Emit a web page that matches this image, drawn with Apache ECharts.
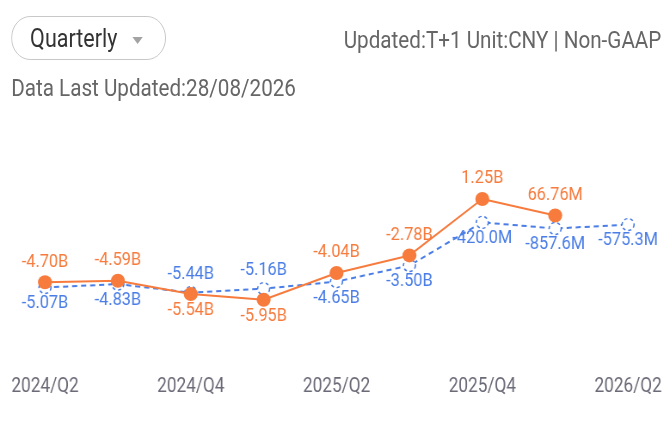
<!DOCTYPE html>
<html><head><meta charset="utf-8">
<script src="https://cdn.jsdelivr.net/npm/echarts@6/dist/echarts.min.js"></script>
<style>
html,body{margin:0;padding:0;background:#fff;font-family:Roboto,"Noto Sans",sans-serif;overflow:hidden;}
#outer{position:relative;width:669px;height:426px;overflow:hidden;}
#wrap{position:absolute;left:0;top:0;width:778px;height:426px;transform:scaleX(0.86);transform-origin:0 0;}
#chart{position:absolute;left:0;top:0;width:778px;height:426px;}
.pill{position:absolute;left:13px;top:16px;width:180px;height:44px;border:1px solid #c4c4c4;border-radius:23px;box-sizing:border-box;}
.pill span{position:absolute;left:21px;top:0;font-size:25px;color:#333;line-height:44px;}
.tri{position:absolute;left:140px;top:20px;width:0;height:0;border-left:6px solid transparent;border-right:6px solid transparent;border-top:7px solid #a3a3a3;}
.unit{position:absolute;right:9px;top:26px;font-size:24px;color:#666;line-height:28px;white-space:nowrap;}
.upd{position:absolute;left:13px;top:74px;font-size:24px;color:#666;line-height:28px;white-space:nowrap;}
</style></head>
<body><div id="outer"><div id="wrap">
<div id="chart"></div>
<div class="pill"><span>Quarterly</span><div class="tri"></div></div>
<div class="unit">Updated:T+1 Unit:CNY | Non-GAAP</div>
<div class="upd">Data Last Updated:28/08/2026</div>
</div></div>
<script>
const categories = ['2024/Q2','2024/Q3','2024/Q4','2025/Q1','2025/Q2','2025/Q3','2025/Q4','2026/Q1','2026/Q2'];
const actualValues = [-4.70, -4.59, -5.54, -5.95, -4.04, -2.78, 1.25, 0.06676];
const actualLabels = ['-4.70B','-4.59B','-5.54B','-5.95B','-4.04B','-2.78B','1.25B','66.76M'];
const actualLabelPos = ['top','top','bottom','bottom','top','top','top','top'];
const estimateValues = [-5.07, -4.83, -5.44, -5.16, -4.65, -3.50, -0.420, -0.8576, -0.5753];
const estimateLabels = ['-5.07B','-4.83B','-5.44B','-5.16B','-4.65B','-3.50B','-420.0M','-857.6M','-575.3M'];
const estimateLabelPos = ['bottom','bottom','top','top','bottom','bottom','bottom','bottom','bottom'];

const SX = 0.86;
const ORANGE = '#F67B3D', BLUE = '#4A7DE6';
const chart = echarts.init(document.getElementById('chart'));
chart.setOption({
  animation:false,
  grid:{left:52.3,right:47.7,top:146.5,bottom:69.5},
  xAxis:{type:'category',data:categories,boundaryGap:false,
    axisLine:{show:false},axisTick:{show:false},splitLine:{show:false},
    axisLabel:{interval:1,color:'#6b6b78',fontSize:20,fontFamily:'Roboto',margin:20}},
  yAxis:{type:'value',min:-10,max:5,show:false,splitLine:{show:false}},
  series:[
    {name:'Estimate',type:'line',z:2,
     data:estimateValues.map((v,i)=>({value:v,label:{position:estimateLabelPos[i],distance:estimateLabelPos[i]==='top'?2:0}})),
     symbol:'circle',symbolSize:[12/SX,12],
     lineStyle:{color:BLUE,width:2,type:[6,4.5]},
     itemStyle:{color:'#fff',borderColor:BLUE,borderWidth:1.5,borderType:[3.5,3]},
     label:{show:true,color:BLUE,fontSize:19,fontFamily:'Roboto',
       formatter:p=>estimateLabels[p.dataIndex]}},
    {name:'Actual',type:'line',z:3,
     data:actualValues.map((v,i)=>({value:v,label:{position:actualLabelPos[i],distance:actualLabelPos[i]==='top'?4:0}})),
     symbol:'circle',symbolSize:[14/SX,14],
     lineStyle:{color:ORANGE,width:2},
     itemStyle:{color:ORANGE},
     label:{show:true,color:ORANGE,fontSize:19,fontFamily:'Roboto',
       formatter:p=>actualLabels[p.dataIndex]}}
  ]
});
</script>
</body></html>
